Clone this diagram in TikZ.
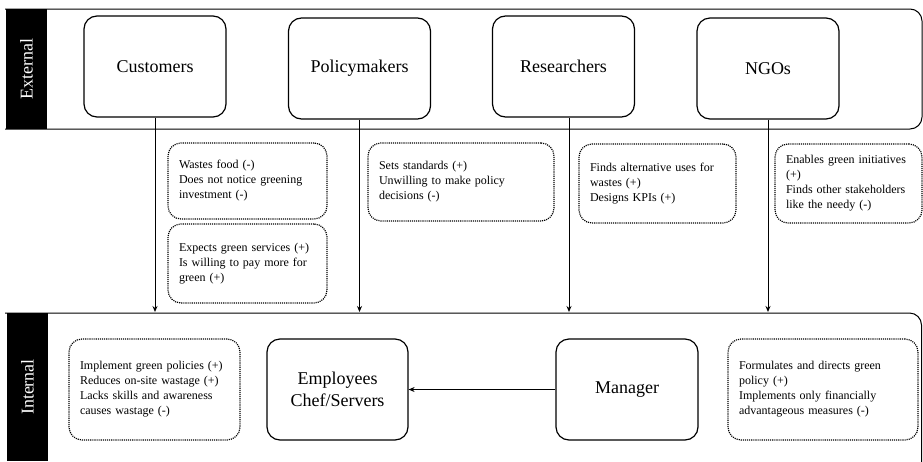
\documentclass[tikz,border=0pt]{standalone}
\usepackage{fontspec}
\setmainfont{Liberation Serif}
\usetikzlibrary{arrows.meta}

\begin{document}
\begin{tikzpicture}[x=1pt, y=-1pt, >={Stealth[length=6pt,width=5pt]},
    actor/.style={draw, line width=1.2pt, rounded corners=13pt, minimum width=142pt, minimum height=101pt, align=center, font=\fontsize{18}{22}\selectfont},
    note/.style={draw, line width=1.2pt, dash pattern=on 1.1pt off 1pt, rounded corners=13pt, inner xsep=11pt, align=left, font=\fontsize{12}{15}\selectfont},
    band/.style={fill=black, text=white, rotate=90, inner sep=0pt, font=\fontsize{18}{22}\selectfont},
    panel/.style={line width=1pt, rounded corners=12pt}]

            \useasboundingbox (0,0) rectangle (923,461);

            % External
            \draw[panel] (5,9) -- (922,9) -- (922,129) -- (5,129);
            \node[band, minimum width=120pt, minimum height=41pt] (ext) at (26.5,69) {External};

            \node[actor] (cust) at (155,66.5) {Customers};
            \node[actor] (pol) at (359.5,68.5) {Policymakers};
            \node[actor] (res) at (563.5,66.5) {Researchers};
            \node[actor] (ngo) at (768,68.5) {NGOs};

            % roles
            \node[note, text width=137pt, minimum height=76pt] (custneg) at (247.5,181) {Wastes food (-)\\Does not notice greening\\investment (-)};
            \node[note, text width=137pt, minimum height=79pt] (custpos) at (247.5,263.5) {Expects green services (+)\\Is willing  to pay more for\\green (+)};
            \node[note, text width=164pt, minimum height=78pt] (polnote) at (461,182) {Sets standards (+)\\Unwilling  to make policy\\decisions (-)};
            \node[note, text width=135pt, minimum height=79pt] (resnote) at (657.5,183.5) {Finds alternative uses for\\wastes (+)\\Designs KPIs (+)};
            \node[note, text width=125pt, minimum height=79pt] (ngonote) at (848.5,183.5) {Enables green initiatives\\(+)\\Finds other stakeholders\\like the needy (-)};

            % Internal
            \draw[panel] (5,313) -- (921.5,313) -- (921.5,470);
            \node[band, minimum width=148pt, minimum height=41pt] (int) at (27.5,387) {Internal};
            \coordinate (intl) at (0,312);

            \node[note, text width=149pt, minimum height=101pt] (empnote) at (154.5,389.5) {Implement green policies (+)\\Reduces on-site wastage (+)\\Lacks skills and awareness\\causes wastage (-)};
            \node[actor, minimum width=141pt] (emp) at (337.5,389.5) {Employees\\Chef/Servers};
            \node[actor] (mgr) at (627,389.5) {Manager};
            \node[note, text width=168pt, minimum height=101pt] (mgrnote) at (823,389.5) {Formulates and directs green\\policy (+)\\Implements only financially\\advantageous measures (-)};

            % links
            \foreach \n in {cust,pol,ngo}
                \draw[->, line width=1pt] (\n.south) -- (\n.south |- intl);
            \draw[->, line width=1pt] ([xshift=5.5pt]res.south) -- ([xshift=5.5pt]res.south |- intl);
            \draw[->, line width=1pt] (mgr.west) -- (emp.east);

        \end{tikzpicture}
\end{document}
